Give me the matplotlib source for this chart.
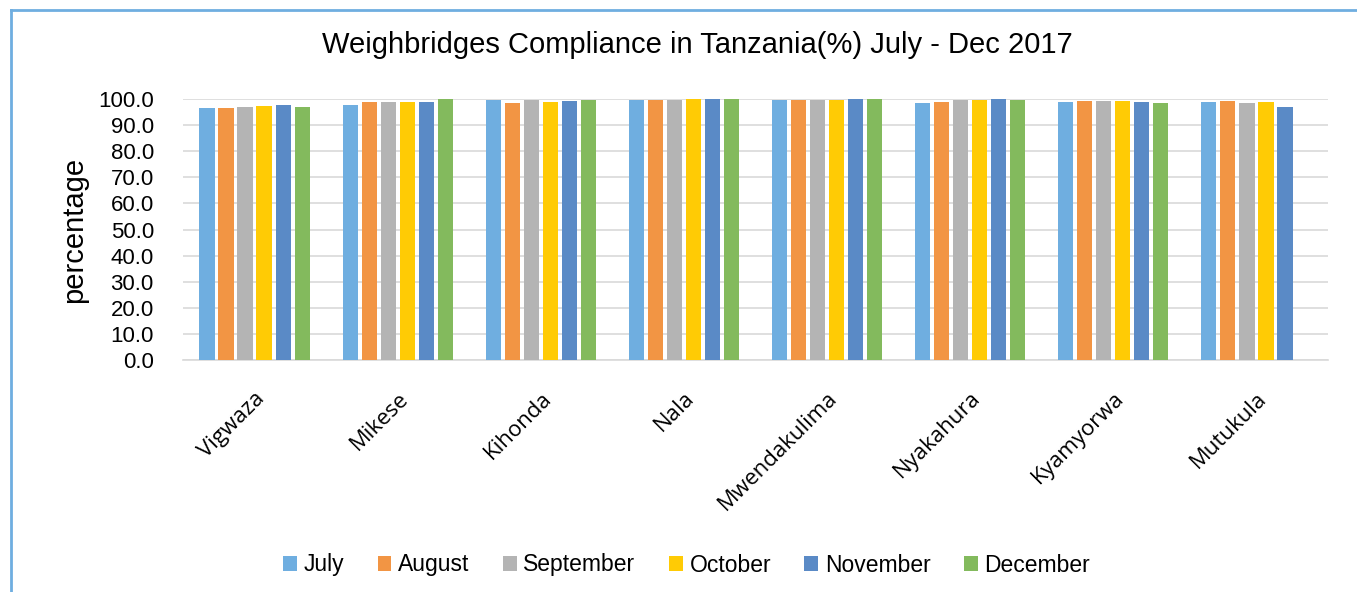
import numpy as np
import matplotlib
matplotlib.use("Agg")
import matplotlib.pyplot as plt
from matplotlib.lines import Line2D

plt.rcParams['font.family'] = ['Liberation Sans', 'DejaVu Sans']

stations = ["Vigwaza", "Mikese", "Kihonda", "Nala", "Mwendakulima",
            "Nyakahura", "Kyamyorwa", "Mutukula"]
months = ["July", "August", "September", "October", "November", "December"]
colors = ["#6FAEE0", "#F29544", "#B4B4B4", "#FFCB05", "#5A8AC6", "#83BA5D"]

july = [96.4, 97.8, 99.7, 99.7, 99.7, 98.3, 99.0, 99.0]
august = [96.7, 98.9, 98.5, 99.7, 99.7, 98.9, 99.1, 99.1]
september = [97.0, 99.0, 99.7, 99.7, 99.7, 99.7, 99.1, 98.3]
october = [97.4, 98.9, 99.0, 99.9, 99.7, 99.7, 99.1, 99.0]
november = [97.8, 98.9, 99.1, 99.9, 99.9, 99.9, 99.0, 97.0]
december = [96.9, 100.0, 99.7, 99.9, 99.9, 99.7, 98.6, np.nan]

series = [july, august, september, october, november, december]

fig = plt.figure(figsize=(13.57, 5.92), dpi=100)
ax = fig.add_axes([183 / 1357, 1 - 360 / 592, (1328 - 183) / 1357, 261 / 592])

x = np.arange(len(stations))
slot = 0.133
bw = 0.106
for i, (vals, name, col) in enumerate(zip(series, months, colors)):
    ax.bar(x + (i - 2.5) * slot, vals, width=bw, color=col, label=name, zorder=3)

ax.set_xlim(-0.5, len(stations) - 0.5)
ax.set_ylim(0, 100)
ax.set_yticks(np.arange(0, 101, 10))
ax.set_yticklabels([f"{v:.1f}" for v in np.arange(0, 101, 10)], fontsize=16)
ax.yaxis.grid(True, color="#D9D9D9", linewidth=1.2, zorder=0)
ax.tick_params(axis="y", length=0, pad=21)
ax.tick_params(axis="x", length=0, pad=20)
for s in ["top", "right", "left"]:
    ax.spines[s].set_visible(False)
ax.spines["bottom"].set_color("#D9D9D9")
ax.spines["bottom"].set_linewidth(1.2)

ax.set_xticks(x)
ax.set_xticklabels(stations, rotation=45, ha="right", rotation_mode="anchor",
                   fontsize=16, family=["Open Sans", "DejaVu Sans"])

ax.set_ylabel("percentage", fontsize=21)
ax.yaxis.set_label_coords(-0.083, 0.5)

fig.text(0.514, 1 - 45 / 592, "Weighbridges Compliance in Tanzania(%) July - Dec 2017",
         ha="center", va="center", fontsize=21)

fig.legend(loc="center", bbox_to_anchor=(0.506, 1 - 565 / 592), ncol=6,
           frameon=False, fontsize=16.5, handlelength=0.6, handleheight=0.6,
           handletextpad=0.3, columnspacing=1.45)

fig.add_artist(Line2D([11 / 1357, 11 / 1357], [0, 1 - 10 / 592],
                      transform=fig.transFigure, color="#6FAEE0", linewidth=2))
fig.add_artist(Line2D([11 / 1357, 1], [1 - 10 / 592, 1 - 10 / 592],
                      transform=fig.transFigure, color="#6FAEE0", linewidth=2))

fig.savefig("out.png", dpi=100)
